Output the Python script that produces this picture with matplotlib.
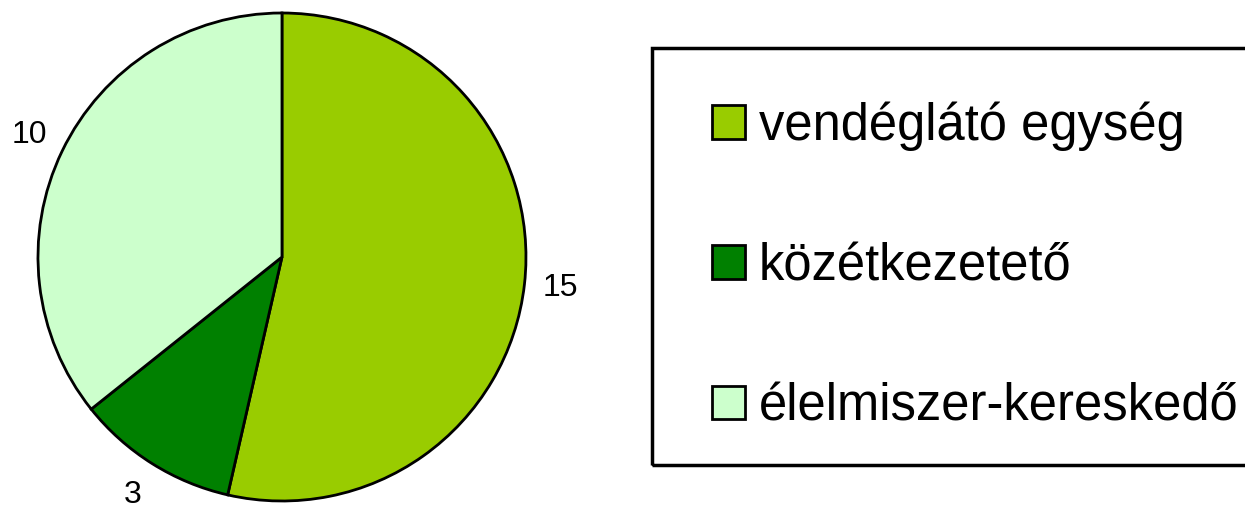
import matplotlib.pyplot as plt
from matplotlib.patches import Patch, Rectangle

plt.rcParams['font.family'] = ['Liberation Sans', 'DejaVu Sans']

categories = ['vendéglátó egység', 'közétkezetető', 'élelmiszer-kereskedő']
values = [15, 3, 10]
colors = ['#99CC00', '#008000', '#CCFFCC']

fig = plt.figure(figsize=(12.45, 5.13), dpi=100)
ax = fig.add_axes([0.0305, 0.0234, 0.39197, 0.95127])

wedges, texts = ax.pie(values, colors=colors, startangle=90, counterclock=False,
                       labels=[str(v) for v in values], labeldistance=1.15,
                       wedgeprops=dict(edgecolor='black', linewidth=2),
                       textprops=dict(fontsize=23))
for t in texts:
    t.set_horizontalalignment('center')
    t.set_verticalalignment('center')
ax.set_xlim(-1, 1)
ax.set_ylim(-1, 1)

handles = [Patch(facecolor=c, edgecolor='black', linewidth=2) for c in colors]
leg = fig.legend(handles, categories, loc='upper left',
                 bbox_to_anchor=(654 / 1245, 1 - 43 / 513), borderaxespad=0,
                 fontsize=36.5, frameon=False, handlelength=0.64, handleheight=0.64,
                 handletextpad=0.28, borderpad=1.15, labelspacing=1.8)

# legend box, its right side runs off the figure like in the original
fig.patches.append(Rectangle((652 / 1245, 48 / 513), 0.6, (465 - 48) / 513,
                             transform=fig.transFigure, fill=False,
                             edgecolor='black', linewidth=2.5))

fig.savefig('out.png', dpi=100)
